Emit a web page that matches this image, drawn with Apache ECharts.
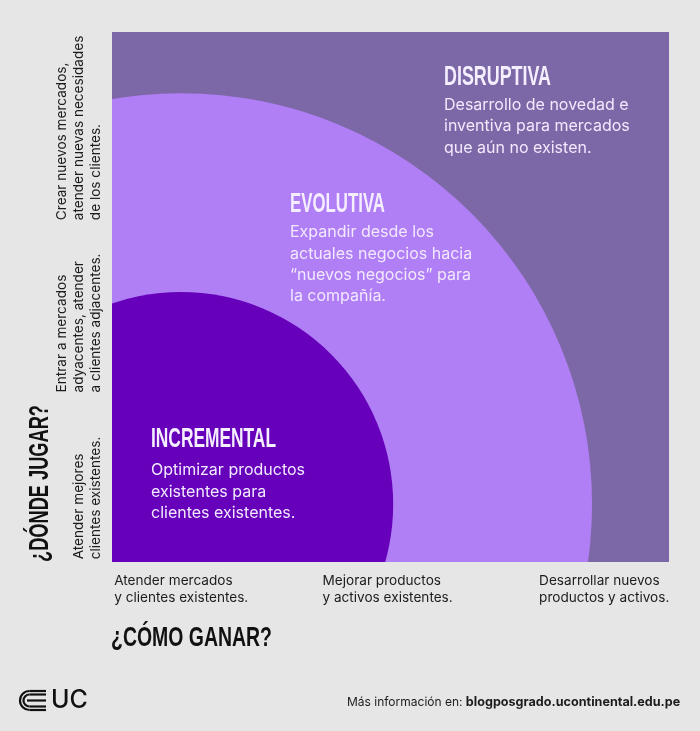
<!DOCTYPE html>
<html><head><meta charset="utf-8">
<style>html,body{margin:0;padding:0;background:#e6e6e6}#c{width:700px;height:731px}</style>
<script src="https://cdn.jsdelivr.net/npm/echarts@6/dist/echarts.min.js"></script>
</head><body><div id="c"></div>
<script>
// Regions: centre and radius, in axis units (0-100)
const regionNames = ['Disruptiva', 'Evolutiva', 'Incremental'];
const regionCenterX = [12.33, 12.33, 12.33];
const regionCenterY = [10.9, 10.9, 10.9];
const regionRadius = [130, 74, 38.2];
const regionColors = ['#7c68a6', '#b07ef5', '#6600bb'];

const xTickValues = [0.3, 37.8, 76.8];
const xTickLabels = ['Atender mercados\ny clientes existentes.', 'Mejorar productos\ny activos existentes.', 'Desarrollar nuevos\nproductos y activos.'];
const yTickValues = [0.5, 32, 64.5];
const yTickLabels = ['Atender mejores\nclientes existentes.', 'Entrar a mercados\nadyacentes, atender\na clientes adjacentes.', 'Crear nuevos mercados,\natender nuevas necesidades\nde los clientes.'];

const xTitle = '¿CÓMO GANAR?';
const yTitle = '¿DÓNDE JUGAR?';
const regionHeads = ['DISRUPTIVA', 'EVOLUTIVA', 'INCREMENTAL'];
const regionTexts = [
  'Desarrollo de novedad e\ninventiva para mercados\nque aún no existen.',
  'Expandir desde los\nactuales negocios hacia\n“nuevos negocios” para\nla compañía.',
  'Optimizar productos\nexistentes para\nclientes existentes.'
];
const footerLead = 'Más información en: ';
const footerLink = 'blogposgrado.ucontinental.edu.pe';
const logoText = 'UC';

const BODY = 'Inter, "Noto Sans", sans-serif';
const HEAD = '"Liberation Sans", sans-serif';
const HEADFONT = 'bold 28px ' + HEAD;
const INK = '#1c1c1c';
const ctx = document.createElement('canvas').getContext('2d');

function head(text, x, y, w, color, rotation) {
  ctx.font = HEADFONT;
  const sx = w / ctx.measureText(text).width;
  return { type: 'text', x, y, z: 100, scaleX: sx, rotation: rotation || 0,
    style: { text, fill: color, font: HEADFONT, textVerticalAlign: 'top' } };
}
function body(text, x, y) {
  return { type: 'text', x, y, z: 100,
    style: { text, fill: '#f2e9ff', font: '400 16px ' + BODY, lineHeight: 21.3, textVerticalAlign: 'top' } };
}
const logoLine = (x1, y1, x2) => ({ type: 'line', shape: { x1, y1, x2, y2: y1 }, style: { stroke: '#111', lineWidth: 2.2 } });
const logoArc = r => ({ type: 'arc', shape: { cx: 29.5, cy: 700.5, r, startAngle: Math.PI / 2, endAngle: 3 * Math.PI / 2, clockwise: true },
  style: { stroke: '#111', lineWidth: 2.2, fill: 'none' } });

const chart = echarts.init(document.getElementById('c'), null, { renderer: 'canvas' });
chart.setOption({
  animation: false,
  backgroundColor: '#e6e6e6',
  grid: { left: 112.5, top: 32, width: 555.5, height: 530 },
  xAxis: {
    type: 'value', min: 0, max: 100, splitLine: { show: false },
    axisLine: { show: false }, axisTick: { show: false },
    axisLabel: {
      customValues: xTickValues, align: 'left', verticalAlign: 'top', margin: 11,
      color: INK, fontFamily: BODY, fontSize: 13.6, lineHeight: 16.5,
      formatter: v => xTickLabels[xTickValues.indexOf(v)]
    }
  },
  yAxis: {
    type: 'value', min: 0, max: 100, splitLine: { show: false },
    axisLine: { show: false }, axisTick: { show: false },
    axisLabel: {
      customValues: yTickValues, rotate: 90, align: 'left', verticalAlign: 'bottom', margin: 8,
      color: INK, fontFamily: BODY, fontSize: 13.6, lineHeight: 17,
      formatter: v => yTickLabels[yTickValues.indexOf(v)]
    }
  },
  series: [{
    type: 'custom', clip: true, coordinateSystem: 'cartesian2d',
    encode: { x: 0, y: 1 },
    data: regionNames.map((n, i) => ({ name: n, value: [regionCenterX[i], regionCenterY[i], regionRadius[i]] })),
    renderItem(params, api) {
      const c = api.coord([api.value(0), api.value(1)]);
      const r = api.size([api.value(2), 0])[0];
      return { type: 'circle', shape: { cx: c[0], cy: c[1], r },
        style: { fill: regionColors[params.dataIndex] } };
    }
  }],
  graphic: { elements: [
    head(regionHeads[0], 444, 63.5, 107, '#f4eeff'),
    body(regionTexts[0], 444, 94.5),
    head(regionHeads[1], 290, 190, 95, '#f4eeff'),
    body(regionTexts[1], 290, 222),
    head(regionHeads[2], 151, 425, 125, '#f4eeff'),
    body(regionTexts[2], 151, 460),
    head(xTitle, 111, 624, 161, '#111'),
    head(yTitle, 26, 562, 157, '#111', Math.PI / 2),
    { type: 'text', x: 347, y: 696, style: {
        text: '{a|' + footerLead + '}{b|' + footerLink + '}',
        rich: { a: { font: '400 12px ' + BODY, fill: INK }, b: { font: '700 12.6px ' + BODY, fill: INK } } } },
    { type: 'text', x: 51, y: 688, style: { text: logoText, font: '500 25px ' + BODY, fill: '#111' } },
    logoArc(9.5), logoArc(6), logoLine(29.5, 691, 46), logoLine(29.5, 710, 46),
    logoLine(29.5, 694.5, 46), logoLine(29.5, 706.5, 46), logoLine(27, 700.5, 46)
  ] }
});
</script></body></html>
